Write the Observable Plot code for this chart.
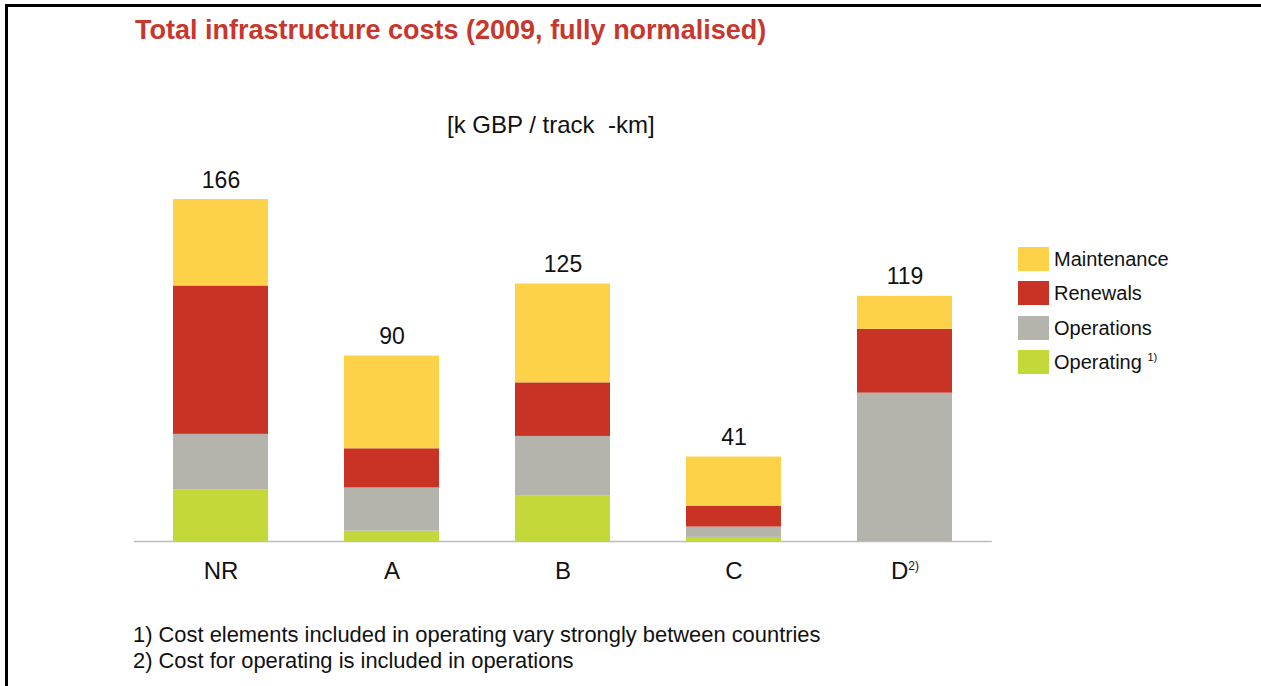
<!DOCTYPE html>
<html>
<head>
<meta charset="utf-8">
<script src="https://cdn.jsdelivr.net/npm/d3@7"></script>
<script src="https://cdn.jsdelivr.net/npm/@observablehq/plot@0.6"></script>
<style>
  body { margin: 0; background: #fff; font-family: "Liberation Sans", Arial, sans-serif; }
  #wrap { position: relative; width: 1261px; height: 686px; overflow: hidden; background: #fff; }
  #frame { position: absolute; left: 5px; top: 4px; width: 1300px; height: 800px; border-left: 3px solid #000; border-top: 3px solid #000; }
  #title { position: absolute; left: 135px; top: 17px; font-size: 27px; line-height: 1; font-weight: bold; color: #C8372D; white-space: nowrap; }
  #unit { position: absolute; left: 447px; top: 113px; font-size: 24px; line-height: 1; color: #111; white-space: pre; }
  #chart { position: absolute; left: 0; top: 0; }
  #legend { position: absolute; left: 1018px; top: 247px; }
  .lrow { position: relative; height: 24px; margin-bottom: 10.3px; }
  .sw { position: absolute; left: 0; top: 0; width: 31px; height: 24px; }
  .lt { position: absolute; left: 36px; top: 0; line-height: 24px; font-size: 20px; color: #111; white-space: nowrap; }
  .lt sup { font-size: 11px; vertical-align: 8px; line-height: 0; }
  #notes { position: absolute; left: 133px; top: 622px; font-size: 21.9px; line-height: 26px; color: #111; white-space: nowrap; }
</style>
</head>
<body>
<div id="wrap">
  <div id="frame"></div>
  <div id="title"></div>
  <div id="unit"></div>
  <div id="chart"></div>
  <div id="legend"></div>
  <div id="notes"></div>
</div>
<script>
// ---- data ----
const titleText = "Total infrastructure costs (2009, fully normalised)";
const unitText = "[k GBP / track  -km]";
const countries = ["NR", "A", "B", "C", "D"];
const components = ["Operating", "Operations", "Renewals", "Maintenance"]; // stack order, bottom to top
const operating   = [25,  5, 22,  2,  0];
const operations  = [27, 21, 29,  5, 72];
const renewals    = [72, 19, 26, 10, 31];
const maintenance = [42, 45, 48, 24, 16];
const totals      = [166, 90, 125, 41, 119];
const colors = ["#C5D83A", "#B4B4AC", "#C83325", "#FDD249"];
const legendOrder = ["Maintenance", "Renewals", "Operations", "Operating"];
const legendNotes = {"Operating": "1)"};
const tickNotes = {"D": "2)"};
const footnotes = [
  "1) Cost elements included in operating vary strongly between countries",
  "2) Cost for operating is included in operations"
];

// ---- table ----
const series = [operating, operations, renewals, maintenance];
const rows = [];
countries.forEach((c, i) => {
  series.forEach((arr, j) => rows.push({country: c, component: components[j], value: arr[i]}));
});
const totalRows = countries.map((c, i) => ({country: c, total: totals[i]}));

const font = '"Liberation Sans", Arial, sans-serif';

const plot = Plot.plot({
  width: 1261,
  height: 600,
  marginLeft: 133.7,
  marginRight: 269.2,
  marginTop: 199,
  marginBottom: 59,
  style: {fontFamily: font, background: "transparent", color: "#111"},
  x: {domain: countries, paddingInner: 0.446, paddingOuter: 0.223, label: null},
  y: {domain: [0, 166], axis: null},
  color: {domain: components, range: colors},
  marks: [
    Plot.ruleY([0], {stroke: "#bdbdbd", strokeWidth: 1.5}),
    Plot.barY(rows, {x: "country", y: "value", fill: "component", order: components}),
    Plot.text(totalRows, {x: "country", y: "total", text: d => String(d.total), dy: -12, lineAnchor: "bottom", fontSize: 23, fill: "#111"}),
    Plot.axisX({tickSize: 0, tickPadding: 20, fontSize: 24, label: null, fill: "#111"})
  ]
});

// superscript note on tick label
d3.select(plot).selectAll('[aria-label="x-axis tick label"] text').each(function() {
  const t = this.textContent;
  if (tickNotes[t]) {
    d3.select(this).append("tspan").attr("font-size", 12).attr("dy", "-0.75em").text(tickNotes[t]);
  }
});
document.getElementById("chart").appendChild(plot);

document.getElementById("title").textContent = titleText;
document.getElementById("unit").textContent = unitText;

const legend = document.getElementById("legend");
legendOrder.forEach(name => {
  const row = document.createElement("div");
  row.className = "lrow";
  const sw = document.createElement("div");
  sw.className = "sw";
  sw.style.background = colors[components.indexOf(name)];
  const lt = document.createElement("div");
  lt.className = "lt";
  lt.textContent = name + (legendNotes[name] ? " " : "");
  if (legendNotes[name]) {
    const sup = document.createElement("sup");
    sup.textContent = legendNotes[name];
    lt.appendChild(sup);
  }
  row.appendChild(sw);
  row.appendChild(lt);
  legend.appendChild(row);
});

const notes = document.getElementById("notes");
footnotes.forEach(f => {
  const d = document.createElement("div");
  d.textContent = f;
  notes.appendChild(d);
});
</script>
</body>
</html>
